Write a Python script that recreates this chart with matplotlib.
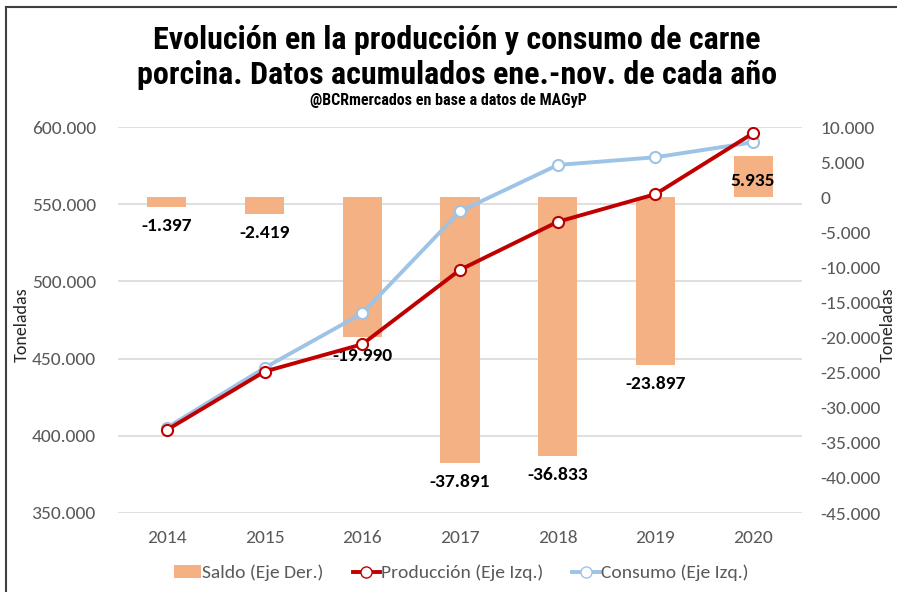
import matplotlib
matplotlib.use("Agg")
from matplotlib import pyplot as plt
from matplotlib.patches import Patch
from matplotlib.lines import Line2D

# datos (toneladas)
years = ["2014", "2015", "2016", "2017", "2018", "2019", "2020"]
produccion = [403800, 441600, 459300, 507500, 538600, 556500, 596000]
consumo = [405200, 444000, 479300, 545400, 575400, 580400, 590100]
saldo = [-1397, -2419, -19990, -37891, -36833, -23897, 5935]
saldo_labels = ["-1.397", "-2.419", "-19.990", "-37.891", "-36.833", "-23.897", "5.935"]

left_ticks = [350000, 400000, 450000, 500000, 550000, 600000]
right_ticks = list(range(-45000, 10001, 5000))

def miles(v):
    return f"{v:,.0f}".replace(",", ".")

gray = "#595959"
red = "#C00000"
blue = "#9DC3E6"
peach = "#F4B183"
narrow = ["Roboto Condensed", "DejaVu Sans"]

plt.rcParams["font.family"] = ["Carlito", "DejaVu Sans"]

fig = plt.figure(figsize=(8.97, 5.92), dpi=100)
ax = fig.add_axes([118 / 897, 1 - 513 / 592, (802 - 118) / 897, (513 - 127) / 592])
axb = ax.twinx()
axl = ax.twinx()

x = list(range(len(years)))

# capa de fondo: grilla y eje izquierdo
ax.set_ylim(350000, 600000)
ax.set_xlim(-0.5, 6.5)
ax.set_yticks(left_ticks)
ax.set_yticklabels([miles(v) for v in left_ticks])
ax.set_xticks(x)
ax.set_xticklabels(years)
ax.grid(axis="y", color="#D9D9D9", linewidth=1.2)
ax.tick_params(axis="y", length=0, pad=16, labelsize=14, labelcolor=gray)
ax.tick_params(axis="x", length=0, pad=12, labelsize=14, labelcolor=gray)

# barras: saldo en eje derecho
axb.set_ylim(-45000, 10000)
axb.set_yticks(right_ticks)
axb.set_yticklabels([miles(v) for v in right_ticks])
axb.tick_params(axis="y", length=0, pad=13, labelsize=14, labelcolor=gray)
axb.bar(x, saldo, width=0.4, color=peach)
for xi, v, lab in zip(x, saldo, saldo_labels):
    if v < 0:
        axb.text(xi, v - 2700, lab, ha="center", va="center", fontsize=14,
                 fontweight="bold", color="black")
    else:
        axb.text(xi, v - 3600, lab, ha="center", va="center", fontsize=14,
                 fontweight="bold", color="black")

# lineas en eje izquierdo
axl.set_ylim(350000, 600000)
axl.set_xlim(-0.5, 6.5)
axl.yaxis.set_visible(False)
axl.plot(x, consumo, color=blue, linewidth=2.8, marker="o", markersize=8,
         markerfacecolor="white", markeredgecolor=blue, markeredgewidth=1.5, zorder=3)
axl.plot(x, produccion, color=red, linewidth=2.8, marker="o", markersize=8,
         markerfacecolor="white", markeredgecolor=red, markeredgewidth=1.5, zorder=4)

for a in (ax, axb, axl):
    for s in a.spines.values():
        s.set_visible(False)

# titulos
fig.text(457 / 897, 1 - 40 / 592, "Evolución en la producción y consumo de carne",
         ha="center", va="center", fontsize=23, fontweight="bold", family=narrow)
fig.text(457 / 897, 1 - 75 / 592, "porcina. Datos acumulados ene.-nov. de cada año",
         ha="center", va="center", fontsize=23, fontweight="bold", family=narrow)
fig.text(0.5, 1 - 101 / 592, "@BCRmercados en base a datos de MAGyP",
         ha="center", va="center", fontsize=11.5, fontweight="bold", family=narrow)

fig.text(22 / 897, 1 - 325 / 592, "Toneladas", rotation=90, ha="center", va="center",
         fontsize=13, color="#262626")
fig.text(888 / 897, 1 - 325 / 592, "Toneladas", rotation=90, ha="center", va="center",
         fontsize=13, color="#262626")

# leyenda
handles = [
    Patch(facecolor=peach, edgecolor="none"),
    Line2D([], [], color=red, linewidth=2.8, marker="o", markersize=8,
           markerfacecolor="white", markeredgecolor=red),
    Line2D([], [], color=blue, linewidth=2.8, marker="o", markersize=8,
           markerfacecolor="white", markeredgecolor=blue),
]
labels = ["Saldo (Eje Der.)", "Producción (Eje Izq.)", "Consumo (Eje Izq.)"]
leg = fig.legend(handles, labels, loc="center", bbox_to_anchor=(461 / 897, 1 - 573 / 592),
                 ncol=3, frameon=False, fontsize=14, handlelength=1.4,
                 handletextpad=0.05, columnspacing=1.5)
for t in leg.get_texts():
    t.set_color(gray)

# marco
fig.add_artist(Line2D([6 / 897, 6 / 897], [0, 1 - 7 / 592], color="#404040", linewidth=1.5))
fig.add_artist(Line2D([6 / 897, 1], [1 - 7 / 592, 1 - 7 / 592], color="#404040", linewidth=1.5))

fig.savefig("out.png", dpi=100)
